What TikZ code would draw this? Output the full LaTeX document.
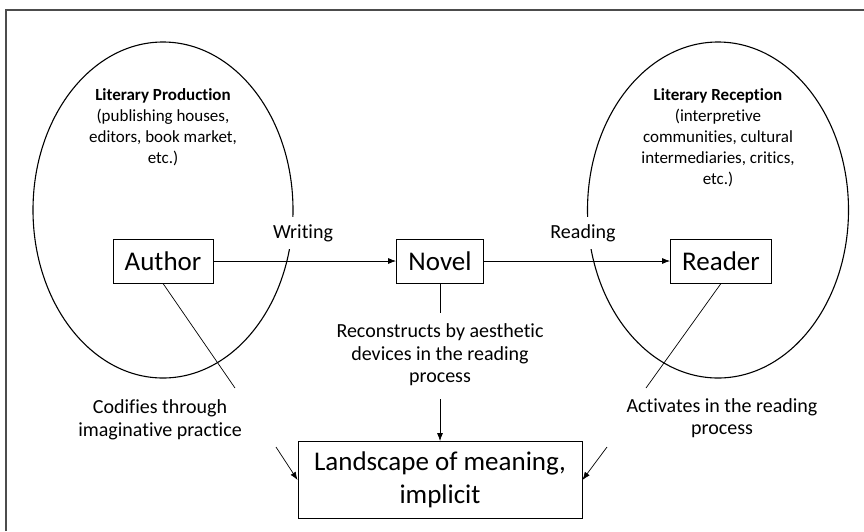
\documentclass[tikz,border=0pt]{standalone}
\usepackage{fontspec}
\setmainfont{Carlito}[Ligatures=NoCommon]
\usetikzlibrary{arrows.meta,shapes.geometric}
\begin{document}
\begin{tikzpicture}[x=1pt,y=-1pt,
  box/.style={draw,line width=0.9pt,inner sep=0pt,fill=white,align=center,font=\fontsize{27}{33}\selectfont},
  lbl/.style={align=center,inner sep=1pt,font=\fontsize{20}{22.5}\selectfont},
  inner/.style={align=center,inner sep=0pt,font=\fontsize{17}{21}\selectfont},
  oval/.style={draw,ellipse,line width=1.1pt,inner sep=0pt},
  arr/.style={-{Latex[length=8pt,width=6pt]},line width=0.7pt},
  conn/.style={line width=0.7pt}]
\useasboundingbox (0,0) rectangle (864,531);
\draw[line width=1.5pt,black!70] (6,531) -- (6,10) -- (864,10);
% ellipses
\node[oval,minimum width=260pt,minimum height=336pt] (prod) at (163,210) {};
\node[oval,minimum width=261pt,minimum height=336pt] (recep) at (718,210) {};
% ellipse texts
\node[inner] (prodtxt) at (163,127) {\textbf{Literary Production}\\(publishing houses,\\editors, book market,\\etc.)};
\node[inner] (receptxt) at (718,138) {\textbf{Literary Reception}\\(interpretive\\communities, cultural\\intermediaries, critics,\\etc.)};
% edge labels (mask ellipse)
\node[lbl,fill=white,inner ysep=7pt,inner xsep=2pt] (writing) at (303,233) {Writing};
\node[lbl,fill=white,inner ysep=7pt,inner xsep=2pt] (reading) at (583,233) {Reading};
% boxes
\node[box,minimum width=100pt,minimum height=44pt] (author) at (163,261) {Author};
\node[box,minimum width=87pt,minimum height=44pt] (novel) at (440,261) {Novel};
\node[box,minimum width=101pt,minimum height=44pt] (reader) at (721,261) {Reader};
\node[box,minimum width=284pt,minimum height=77pt] (land) at (440,480) {Landscape of meaning,\\implicit};
% bottom labels
\node[lbl] (codifies) at (160,420) {Codifies through\\imaginative practice};
\node[lbl] (recon) at (440,355) {Reconstructs by aesthetic\\devices in the reading\\process};
\node[lbl] (activ) at (722,418) {Activates in the reading\\process};
% connectors
\draw[arr] (author.east) -- (novel.west);
\draw[arr] (novel.east) -- (reader.west);
\coordinate (ca) at (235,388);
\coordinate (cr) at (646,388);
\coordinate (cn) at (440,313);
\coordinate (cl) at (440,399);
\coordinate (cll) at (276,447);
\coordinate (clr) at (607,447);
\draw[conn] (author.south) -- (ca);
\draw[conn] (reader.south) -- (cr);
\draw[conn] (novel.south) -- (cn);
\draw[arr] (cl) -- (land.north);
\draw[arr] (cll) -- (land.west);
\draw[arr] (clr) -- (land.east);
\end{tikzpicture}
\end{document}
